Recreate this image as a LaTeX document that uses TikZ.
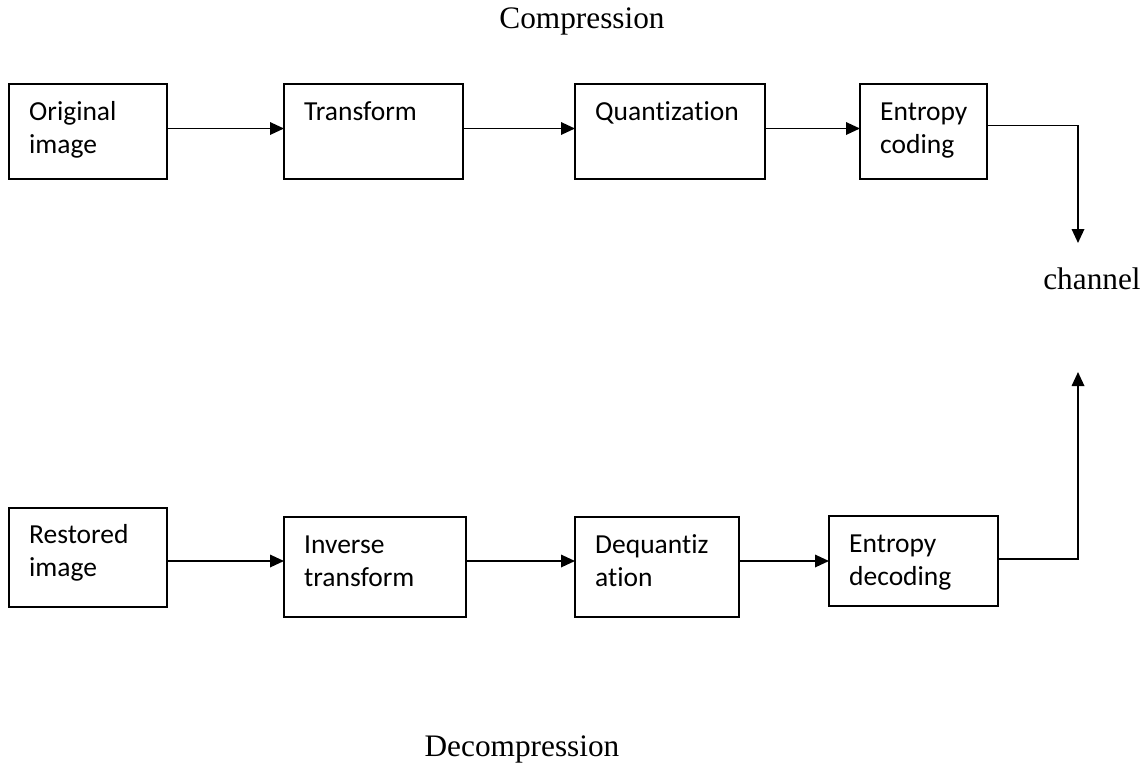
\documentclass[tikz,border=0pt]{standalone}
\usepackage{fontspec}
\setmainfont{Liberation Serif}
\newfontfamily\boxfont[Ligatures=NoCommon]{Carlito}
\usetikzlibrary{arrows.meta,calc}
\begin{document}
\begin{tikzpicture}[x=1pt,y=-1pt,
  blk/.style={draw=black,line width=1.8pt,inner sep=0pt,outer sep=0pt,fill=white},
  lbl/.style={font=\boxfont\fontsize{27.5}{33.5}\selectfont,inner sep=0pt,anchor=base west,
              text width=170pt,align=left},
  ttl/.style={font=\fontsize{31.3}{36}\selectfont,inner sep=0pt,anchor=base},
  arr/.style={line width=1.8pt,-{Triangle[length=14pt,width=12.5pt]}}]
\useasboundingbox (0,0) rectangle (1146,764);

% compression chain
\node[blk,minimum width=158pt,minimum height=95pt] (orig) at (88,131.5) {};
\node[blk,minimum width=179pt,minimum height=95pt] (tr)   at (373.5,131.5) {};
\node[blk,minimum width=190pt,minimum height=95pt] (qu)   at (670,131.5) {};
\node[blk,minimum width=127pt,minimum height=95pt] (ec)   at (923.5,131.5) {};

% decompression chain
\node[blk,minimum width=158pt,minimum height=99pt]  (rest) at (88,557.5) {};
\node[blk,minimum width=182pt,minimum height=100pt] (inv)  at (375,567) {};
\node[blk,minimum width=164pt,minimum height=100pt] (deq)  at (657,567) {};
\node[blk,minimum width=169pt,minimum height=90pt]  (ed)   at (913.5,561) {};

% box texts
\node[lbl] (torig) at ([xshift=20pt,yshift=-36pt]orig.north west) {Original\\image};
\node[lbl] (ttr)   at ([xshift=20pt,yshift=-36pt]tr.north west) {Transform};
\node[lbl] (tqu)   at ([xshift=20pt,yshift=-36pt]qu.north west) {Quantization};
\node[lbl] (tec)   at ([xshift=20pt,yshift=-36pt]ec.north west) {Entropy\\coding};
\node[lbl] (trest) at ([xshift=20pt,yshift=-35pt]rest.north west) {Restored\\image};
\node[lbl] (tinv)  at ([xshift=20pt,yshift=-36pt]inv.north west) {Inverse\\transform};
\node[lbl] (tdeq)  at ([xshift=20pt,yshift=-36pt]deq.north west) {Dequantiz\\ation};
\node[lbl] (ted)   at ([xshift=20pt,yshift=-36pt]ed.north west) {Entropy\\decoding};

% titles
\node[ttl] (comp)    at (582,28) {Compression};
\node[ttl] (decomp)  at (522,756) {Decompression};
\node[ttl] (channel) at (1092,289) {channel};

% connectors
\coordinate (down) at (1078,243);
\coordinate (up)   at (1078,372);
\draw[arr] ([yshift=3pt]orig.east) -- ([yshift=3pt]tr.west);
\draw[arr] ([yshift=3pt]tr.east) -- ([yshift=3pt]qu.west);
\draw[arr] ([yshift=3pt]qu.east) -- ([yshift=3pt]ec.west);
\draw[arr] ([yshift=6pt]ec.east) -| (down);

\draw[arr] ([yshift=-3.5pt]rest.east) -- ([yshift=6pt]inv.west);
\draw[arr] ([yshift=6pt]inv.east) -- ([yshift=6pt]deq.west);
\draw[arr] ([yshift=6pt]deq.east) -- (ed.west);
\draw[arr] ([yshift=2pt]ed.east) -| (up);
\end{tikzpicture}
\end{document}
